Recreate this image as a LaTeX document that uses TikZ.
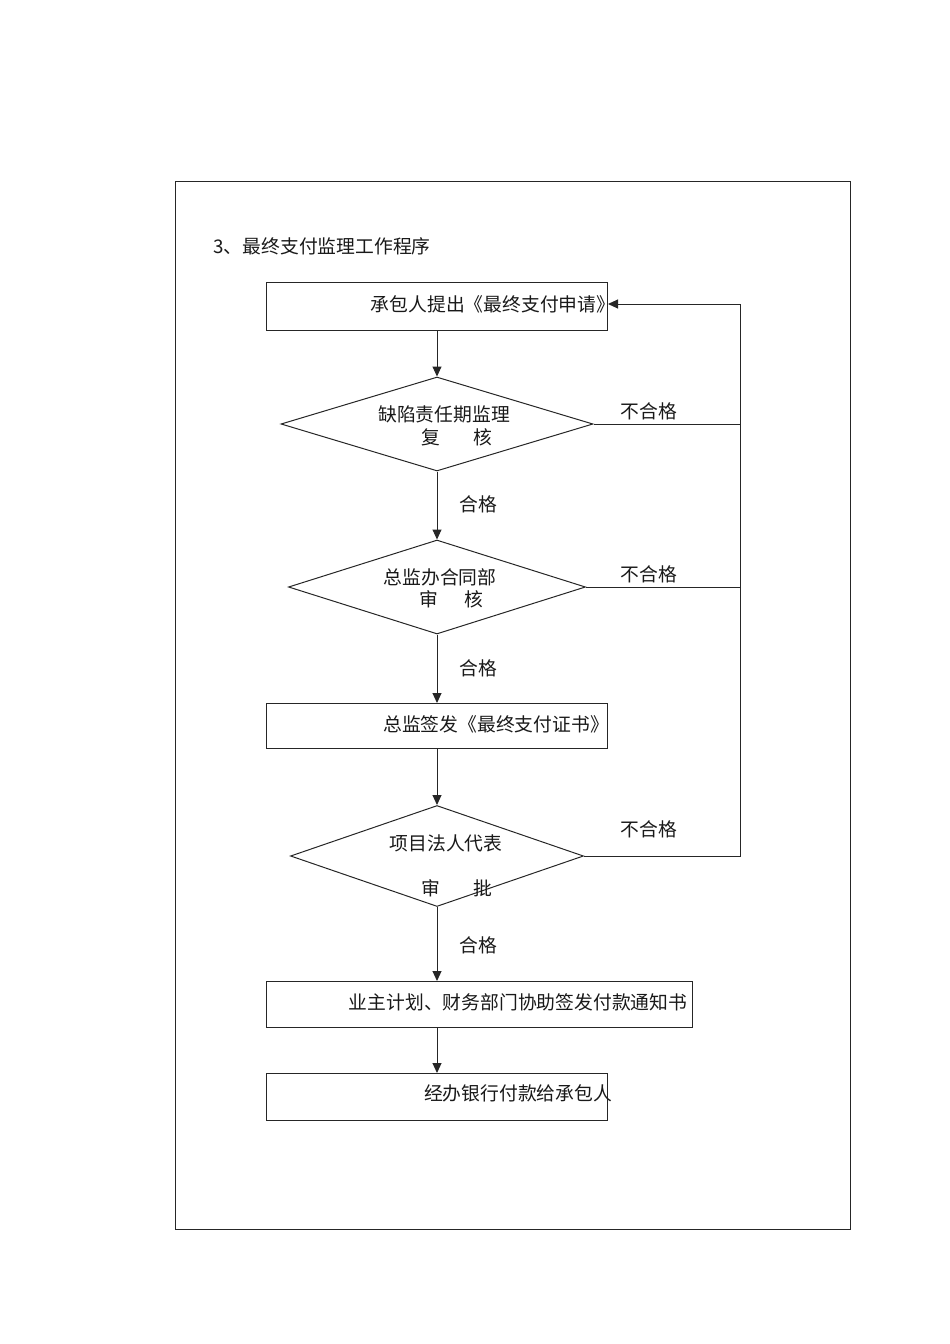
\documentclass[tikz,border=0pt]{standalone}
\usepackage{fontspec}
\newfontfamily\cjk{Noto Sans CJK SC}
\usetikzlibrary{shapes.geometric,arrows.meta}
\begin{document}
\begin{tikzpicture}[x=1pt,y=-1pt,
  every node/.style={font=\cjk\fontsize{18.8}{21}\selectfont},
  line/.style={line width=1pt,draw=black!85},
  stepbox/.style={line,rectangle,inner sep=0pt,anchor=north west},
  decision/.style={line,diamond,inner sep=0pt},
  txt/.style={inner sep=0pt,text=black!90},
  arr/.style={line,-{Triangle[length=10pt,width=9pt]}}]
\useasboundingbox (0,0) rectangle (950,1344);
\draw[line] (175,181) rectangle (850,1229);
\node[txt] (title) at (322,246) {3、最终支付监理工作程序};
% boxes
\node[stepbox,minimum width=341pt,minimum height=48pt] (b1) at (266,282) {};
\node[stepbox,minimum width=341pt,minimum height=45pt] (b3) at (266,703) {};
\node[stepbox,minimum width=426pt,minimum height=46pt] (b4) at (266,981) {};
\node[stepbox,minimum width=341pt,minimum height=47pt] (b5) at (266,1073) {};
% diamonds
\node[decision,minimum width=312pt,minimum height=94pt] (d1) at (437,424) {};
\node[decision,minimum width=297pt,minimum height=94pt] (d2) at (437,587) {};
\node[decision,minimum width=293pt,minimum height=101pt] (d3) at (437,856) {};
% texts
\node[txt] (t1) at (493,304) {承包人提出《最终支付申请》};
\node[txt] (t2a) at (444,414) {缺陷责任期监理};
\node[txt] (t2b) at (457,437) {复\hspace{1.8em}核};
\node[txt] (t3a) at (440,577) {总监办合同部};
\node[txt] (t3b) at (451,599) {审\hspace{1.4em}核};
\node[txt] (t4) at (496,724) {总监签发《最终支付证书》};
\node[txt] (t5a) at (446,843) {项目法人代表};
\node[txt] (t5b) at (457,888) {审\hspace{1.8em}批};
\node[txt] (t6) at (518,1002) {业主计划、财务部门协助签发付款通知书};
\node[txt] (t7) at (518,1093) {经办银行付款给承包人};
% labels
\node[txt] (n1) at (649,411) {不合格};
\node[txt] (n2) at (649,574) {不合格};
\node[txt] (n3) at (649,829) {不合格};
\node[txt] (p1) at (478,504) {合格};
\node[txt] (p2) at (478,668) {合格};
\node[txt] (p3) at (478,945) {合格};
% main flow
\draw[arr] (b1.south -| d1.north) -- (d1.north);
\draw[arr] (d1.south) -- (d2.north);
\draw[arr] (d2.south) -- (d2.south |- b3.north);
\draw[arr] (d2.south |- b3.south) -- (d3.north);
\draw[arr] (d3.south) -- (d3.south |- b4.north);
\draw[arr] (d3.south |- b4.south) -- (d3.south |- b5.north);
% feedback
\coordinate (r1) at (740,424);
\coordinate (r2) at (740,587);
\coordinate (r3) at (740,856);
\coordinate (rtop) at (740,304);
\draw[line] (d1.east) -- (r1);
\draw[line] (d2.east) -- (r2);
\draw[arr] (d3.east) -- (r3) -- (rtop) -- (b1.east |- rtop);
\end{tikzpicture}
\end{document}
